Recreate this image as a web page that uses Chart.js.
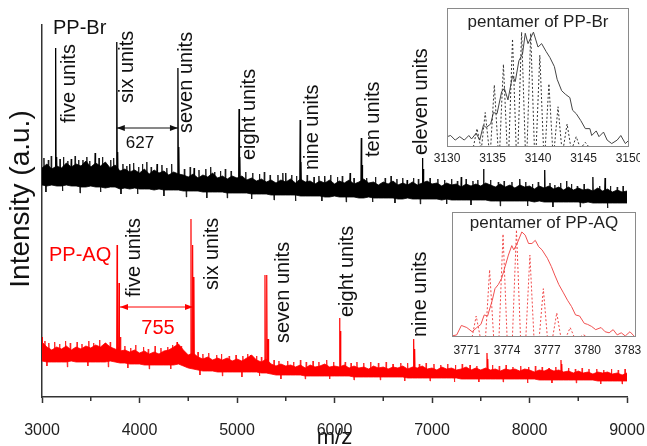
<!DOCTYPE html>
<html>
<head>
<meta charset="utf-8">
<script src="https://cdn.jsdelivr.net/npm/chart.js@4.4.1/dist/chart.umd.min.js"></script>
<style>
  body { margin: 0; background: #fff; }
  #wrap { position: relative; width: 647px; height: 446px; }
  canvas { position: absolute; }
</style>
</head>
<body>
<div id="wrap">
  <canvas id="main" width="647" height="446" style="left:0;top:0"></canvas>
  <canvas id="insetBr" width="215" height="170" style="left:425px;top:0"></canvas>
  <canvas id="insetAq" width="215" height="170" style="left:430px;top:195px"></canvas>
</div>
<script>
// baseline band of both spectra, sampled every 50 m/z from 3000 to 9000
const bandStart = 3000;
const bandStep = 50;

const brUpper = [
  229, 233, 228, 231, 229, 234, 230, 233, 231, 236,
  230, 234, 231, 235, 229, 232, 226, 228, 225, 227,
  224, 228, 223, 227, 224, 226, 222, 225, 223, 222,
  220, 223, 219, 222, 220, 224, 219, 221, 218, 221,
  219, 221, 217, 219, 216, 218, 215, 217, 214, 217,
  215, 218, 214, 218, 215, 216, 213, 216, 214, 217,
  213, 216, 214, 217, 213, 215, 218, 214, 215, 212,
  215, 213, 216, 212, 214, 212, 215, 212, 214, 216,
  213, 214, 211, 214, 212, 213, 210, 213, 211, 213,
  211, 214, 212, 210, 213, 210, 212, 209, 212, 210,
  211, 208, 211, 209, 211, 208, 210, 207, 210, 207,
  209, 207, 208, 206, 209, 206, 208, 205, 207, 205,
  206
];
const brLower = [
  212, 211, 212, 211, 211, 212, 211, 211, 210, 210,
  211, 210, 210, 209, 210, 210, 208, 209, 208, 209,
  208, 208, 208, 207, 208, 207, 207, 207, 207, 206,
  206, 206, 206, 205, 205, 205, 205, 205, 204, 204,
  204, 204, 204, 203, 203, 203, 203, 202, 202, 202,
  202, 202, 202, 201, 201, 201, 201, 201, 200, 200,
  201, 200, 200, 200, 200, 199, 199, 200, 199, 199,
  199, 199, 199, 198, 198, 199, 198, 198, 198, 198,
  198, 198, 197, 198, 197, 197, 197, 197, 197, 197,
  197, 197, 196, 196, 196, 196, 196, 196, 196, 196,
  196, 195, 196, 195, 195, 195, 195, 195, 195, 195,
  195, 194, 195, 194, 194, 194, 194, 194, 194, 194,
  194
];
const aqUpper = [
  55, 50, 47, 50, 48, 51, 47, 50, 48, 51,
  49, 52, 50, 54, 50, 48, 46, 47, 45, 47,
  44, 46, 43, 45, 43, 46, 47, 50, 53, 47,
  42, 44, 40, 38, 40, 37, 39, 37, 39, 36,
  38, 36, 39, 42, 37, 35, 38, 33, 31, 33,
  31, 32, 30, 32, 29, 32, 30, 31, 33, 30,
  31, 30, 32, 29, 31, 29, 30, 28, 31, 29,
  30, 28, 30, 29, 31, 28, 30, 29, 31, 28,
  29, 27, 30, 28, 29, 27, 28, 30, 27, 29,
  27, 29, 27, 28, 26, 28, 27, 28, 26, 28,
  27, 25, 27, 26, 28, 26, 27, 25, 26, 24,
  26, 24, 25, 23, 25, 24, 25, 23, 24, 22,
  24
];
const aqLower = [
  36, 35, 35, 35, 35, 35, 36, 35, 35, 35,
  35, 35, 35, 35, 36, 35, 34, 34, 33, 33,
  33, 32, 32, 32, 32, 32, 32, 32, 33, 31,
  29, 28, 27, 26, 26, 26, 25, 25, 25, 25,
  25, 25, 25, 25, 25, 24, 24, 23, 22, 22,
  22, 22, 22, 22, 21, 21, 21, 21, 21, 21,
  21, 21, 21, 21, 20, 20, 20, 20, 20, 20,
  20, 20, 20, 20, 20, 19, 19, 19, 19, 19,
  19, 19, 19, 19, 19, 19, 18, 18, 18, 18,
  18, 18, 18, 18, 18, 18, 18, 18, 18, 18,
  18, 18, 17, 17, 17, 17, 17, 17, 17, 17,
  17, 17, 17, 17, 16, 16, 16, 16, 16, 16,
  16
];

// peaks and spikes standing out of the baseline
const brSpikeMz = [3140, 3150, 3300, 3420, 3545, 3665, 3767, 3776, 3900, 4180, 4394, 4403, 4560, 4770, 5021, 5029, 5500,
  5648, 5656, 5900, 6160, 6275, 6283, 6745, 6902, 6910, 7300, 7529, 7900, 8156, 8380, 8650, 8775];
const brSpikeTop = [349, 240, 238, 237, 244, 232, 355, 245, 233, 233, 329, 250, 229, 225, 288, 240, 224,
  277, 235, 221, 224, 259, 232, 217, 239, 228, 220, 228, 218, 227, 216, 220, 219];
const aqSpikeMz = [3000, 3650, 3770, 3790, 3805, 4385, 4528, 4545, 4558, 5140, 5287, 5305, 5320, 6052, 6062, 6812, 6822, 7564, 7572, 8323, 8331];
const aqSpikeTop = [60, 54, 152, 114, 60, 55, 178, 152, 120, 42, 122, 122, 58, 79, 66, 58, 48, 44, 38, 37, 33];

// fine noise hairs on the baseline band
const brHairMz = [3020, 3040, 3065, 3095, 3185, 3210, 3220, 3265, 3340, 3375, 3390, 3460, 3490, 3585, 3600, 3620, 3705, 3735,
  3810, 3830, 3870, 3940, 3980, 3990, 4030, 4075, 4120, 4230, 4250, 4280, 4330, 4460, 4480, 4520, 4610, 4680, 4690, 4730,
  4830, 4880, 4900, 4940, 5090, 5150, 5160, 5230, 5280, 5340, 5380, 5420, 5470, 5560, 5600, 5610, 5720, 5790, 5840, 5870,
  5960, 6030, 6080, 6120, 6200, 6330, 6390, 6420, 6520, 6580, 6620, 6640, 6700, 6810, 6860, 6880, 6980, 7060, 7130, 7150,
  7200, 7260, 7350, 7400, 7420, 7470, 7600, 7680, 7700, 7740, 7820, 7960, 7980, 8030, 8090, 8210, 8240, 8260, 8320, 8430,
  8490, 8520, 8560, 8720, 8800, 8830, 8900, 8960];
const brHairTop = [239, 205, 237, 241, 238, 206, 240, 236, 241, 237, 204, 240, 236, 239, 205, 240, 237, 239,
  203, 233, 231, 234, 203, 230, 233, 235, 230, 232, 201, 229, 233, 228, 200, 230, 227, 228, 199, 230,
  226, 228, 199, 226, 225, 198, 224, 223, 225, 222, 197, 222, 224, 222, 196, 221, 222, 220, 221, 196,
  222, 220, 221, 195, 219, 219, 195, 220, 219, 221, 194, 218, 219, 219, 218, 193, 219, 218, 217, 193,
  218, 216, 218, 192, 216, 217, 217, 215, 191, 216, 215, 215, 191, 213, 215, 214, 190, 212, 214, 213,
  211, 190, 213, 211, 189, 211, 210, 211];
const aqHairMz = [3030, 3050, 3070, 3130, 3180, 3240, 3260, 3290, 3360, 3410, 3470, 3480, 3530, 3590, 3680, 3700, 3850, 3880,
  3910, 3960, 4040, 4090, 4100, 4160, 4220, 4290, 4320, 4340, 4430, 4600, 4620, 4650, 4710, 4790, 4840, 4850, 4920, 4990,
  5050, 5060, 5110, 5200, 5230, 5250, 5380, 5430, 5450, 5520, 5580, 5650, 5700, 5710, 5780, 5840, 5920, 5950, 5990, 6110,
  6170, 6200, 6230, 6300, 6370, 6450, 6470, 6530, 6600, 6680, 6720, 6750, 6870, 6940, 6980, 7020, 7090, 7160, 7230, 7240,
  7310, 7390, 7460, 7480, 7620, 7690, 7730, 7760, 7830, 7910, 7980, 7990, 8060, 8130, 8200, 8230, 8270, 8400, 8470, 8480,
  8540, 8610, 8690, 8730, 8760, 8840, 8910, 8950, 8980];
const aqHairTop = [56, 31, 54, 55, 53, 56, 30, 54, 55, 53, 31, 56, 54, 57, 30, 55, 51, 29,
  49, 52, 50, 48, 28, 51, 49, 50, 28, 52, 51, 45, 22, 43, 44, 42, 43, 21, 41, 42,
  20, 41, 43, 41, 21, 40, 37, 36, 18, 36, 35, 37, 18, 35, 36, 35, 37, 18, 35, 35,
  34, 17, 35, 34, 35, 34, 17, 35, 33, 34, 16, 34, 33, 34, 16, 33, 32, 33, 15, 32,
  33, 32, 31, 15, 32, 31, 15, 32, 30, 31, 14, 30, 31, 30, 29, 14, 30, 29, 28, 14,
  29, 28, 28, 13, 27, 28, 27, 13, 28];

const brLabels = ['five units', 'six units', 'seven units', 'eight units', 'nine units', 'ten units', 'eleven units'];
const aqLabels = ['five units', 'six units', 'seven units', 'eight units', 'nine units'];

// insets: measured (solid) and isotope pattern (dotted)
const brObsMz = [3130, 3130.4, 3130.9, 3131.4, 3131.9, 3132.4, 3132.7, 3133.2, 3133.6, 3134.0, 3134.3, 3134.8, 3135.1, 3135.5, 3136.0,
  3136.3, 3136.7, 3137.2, 3137.5, 3137.9, 3138.3, 3138.6, 3138.9, 3139.5, 3140.0, 3140.4, 3140.9, 3141.3, 3141.8, 3142.1,
  3142.6, 3143.0, 3143.5, 3143.8, 3144.2, 3144.7, 3145.2, 3145.7, 3145.9, 3146.4, 3146.7, 3147.2, 3147.6, 3148.1, 3148.7,
  3149.1, 3149.6, 3150];
const brObsVal = [9, 10, 6, 9, 6, 10, 7, 12, 6, 19, 17, 20, 30, 29, 48, 51, 41, 62, 57, 75, 81, 99, 90, 100, 87, 90, 83, 78, 70, 59,
  49, 46, 43, 32, 29, 23, 16, 16, 10, 14, 9, 13, 6, 3, 6, 10, 3, 6];
const brIsoMz = [3133.3, 3134.2, 3135.2, 3136.2, 3137.2, 3138.2, 3139.2, 3140.2, 3141.2, 3142.2, 3143.2, 3144.2, 3145.2];
const brIsoTop = [16, 30, 54, 72, 94, 100, 99, 80, 55, 35, 20, 9, 4];

const aqObsMz = [3769.9, 3770.25, 3770.6, 3771.0, 3771.4, 3771.75, 3772.05, 3772.3, 3772.55, 3772.9, 3773.1, 3773.35, 3773.6, 3773.85,
  3774.1, 3774.35, 3774.5, 3774.75, 3775.1, 3775.35, 3775.6, 3775.85, 3776.1, 3776.35, 3776.6, 3777.0, 3777.3, 3777.55, 3777.85,
  3778.2, 3778.5, 3778.8, 3779.1, 3779.4, 3779.75, 3780.0, 3780.3, 3780.6, 3781.0, 3781.3, 3781.6, 3781.9, 3782.2, 3782.5, 3782.8,
  3783.15, 3783.45];
const aqObsVal = [1, 2, 11, 9, 5, 9, 12, 21, 20, 35, 46, 50, 56, 67, 78, 87, 83, 89, 100, 97, 89, 89, 92, 86, 83, 75, 67, 59, 50,
  42, 35, 29, 21, 20, 13, 12, 10, 7, 9, 5, 4, 7, 2, 4, 1, 5, 1];
const aqIsoMz = [3771.7, 3772.7, 3773.7, 3774.7, 3775.7, 3776.7, 3777.7, 3778.7, 3779.7];
const aqIsoTop = [20, 64, 98, 102, 78, 46, 23, 9, 2];

const FONT = '"Liberation Sans", Arial, sans-serif';
Chart.defaults.font.family = FONT;
Chart.defaults.color = '#222';

function band(vals) {
  return vals.map((v, i) => ({ x: bandStart + i * bandStep, y: v }));
}

function spikes(mz, top, upper, lower) {
  const pts = [];
  mz.forEach((m, i) => {
    const k = Math.min(upper.length - 1, Math.max(0, Math.round((m - bandStart) / bandStep)));
    const base = (upper[k] + lower[k]) / 2;
    pts.push({ x: m - 4, y: base }, { x: m, y: top[i] }, { x: m + 4, y: base }, { x: m + 4, y: null });
  });
  return pts;
}

function isoPeaks(mz, top, w) {
  const pts = [];
  mz.forEach((m, i) => {
    pts.push({ x: m - w, y: 0 }, { x: m, y: top[i] }, { x: m + w, y: 0 });
  });
  return pts;
}

function lineSet(data, color, width, extra) {
  return Object.assign({ data, borderColor: color, borderWidth: width, pointRadius: 0, tension: 0, fill: false }, extra || {});
}

// keep the plot area where the figure has it: no extra room for end labels
function fixX(height) {
  return s => { s.height = height; s.paddingLeft = 0; s.paddingRight = 0; };
}

// text, arrows and minor ticks of the main panel
const annotate = {
  id: 'annotate',
  afterDraw(chart, args, opts) {
    const { ctx, chartArea } = chart;
    const x = chart.scales.x, y = chart.scales.y;
    ctx.save();

    ctx.strokeStyle = '#333';
    ctx.lineWidth = 1.5;
    opts.minorTicks.forEach(m => {
      const px = x.getPixelForValue(m);
      ctx.beginPath();
      ctx.moveTo(px, chartArea.bottom);
      ctx.lineTo(px, chartArea.bottom + 4);
      ctx.stroke();
    });

    ctx.font = '20px ' + FONT;
    ctx.textBaseline = 'middle';
    ctx.textAlign = 'left';
    ctx.fillStyle = '#111';
    const vert = (labels, pos) => labels.forEach((t, i) => {
      ctx.save();
      ctx.translate(x.getPixelForValue(pos[i][0]), y.getPixelForValue(pos[i][1]));
      ctx.rotate(-Math.PI / 2);
      ctx.fillText(t, 0, 0);
      ctx.restore();
    });
    vert(brLabels, opts.brPos);
    vert(aqLabels, opts.aqPos);

    ctx.fillStyle = '#111';
    ctx.fillText('PP-Br', x.getPixelForValue(3113), y.getPixelForValue(369));
    ctx.fillStyle = '#f00';
    ctx.fillText('PP-AQ', x.getPixelForValue(3072), y.getPixelForValue(142));

    const arrow = (m1, m2, v, color) => {
      const x1 = x.getPixelForValue(m1), x2 = x.getPixelForValue(m2), yy = y.getPixelForValue(v);
      ctx.strokeStyle = color;
      ctx.fillStyle = color;
      ctx.lineWidth = 1;
      ctx.beginPath();
      ctx.moveTo(x1, yy);
      ctx.lineTo(x2, yy);
      ctx.stroke();
      [[x1, 1], [x2, -1]].forEach(([px, d]) => {
        ctx.beginPath();
        ctx.moveTo(px, yy);
        ctx.lineTo(px + d * 8, yy - 3);
        ctx.lineTo(px + d * 8, yy + 3);
        ctx.closePath();
        ctx.fill();
      });
    };
    arrow(3767, 4394, 269, '#111');
    arrow(3800, 4549, 90, '#f00');

    ctx.textAlign = 'center';
    ctx.font = '17px ' + FONT;
    ctx.fillStyle = '#111';
    ctx.fillText('627', x.getPixelForValue(4005), y.getPixelForValue(254));
    ctx.font = '20px ' + FONT;
    ctx.fillStyle = '#f00';
    ctx.fillText('755', x.getPixelForValue(4190), y.getPixelForValue(69));

    ctx.font = '28px ' + FONT;
    ctx.fillStyle = '#111';
    ctx.translate(chartArea.left - 21, 199);
    ctx.rotate(-Math.PI / 2);
    ctx.fillText('Intensity (a.u.)', 0, 0);
    ctx.restore();
  }
};

new Chart(document.getElementById('main'), {
  type: 'line',
  data: {
    datasets: [
      lineSet(band(brUpper), '#000', 0.8, { fill: '+1', backgroundColor: '#000' }),
      lineSet(band(brLower), '#000', 0.8),
      lineSet(spikes(brHairMz, brHairTop, brUpper, brLower), '#1a1a1a', 1),
      lineSet(spikes(brSpikeMz, brSpikeTop, brUpper, brLower), '#000', 1.3),
      lineSet(band(aqUpper), '#f00', 0.8, { fill: '+1', backgroundColor: '#f00' }),
      lineSet(band(aqLower), '#f00', 0.8),
      lineSet(spikes(aqHairMz, aqHairTop, aqUpper, aqLower), '#f22', 1),
      lineSet(spikes(aqSpikeMz, aqSpikeTop, aqUpper, aqLower), '#f00', 1.2),
    ]
  },
  options: {
    responsive: false,
    animation: false,
    spanGaps: false,
    layout: { padding: { top: 25, right: 20, left: 0, bottom: 0 } },
    plugins: {
      legend: { display: false },
      tooltip: { enabled: false },
      annotate: {
        minorTicks: [3500, 4500, 5500, 6500, 7500, 8500],
        brPos: [[3287, 274], [3872, 294], [4487, 264], [5123, 237], [5779, 227], [6395, 240], [6897, 242]],
        aqPos: [[3944, 100], [4744, 107], [5472, 54], [6138, 80], [6877, 60]]
      }
    },
    scales: {
      x: {
        type: 'linear',
        min: 3000,
        max: 9000,
        afterFit: fixX(49),
        border: { color: '#333', width: 1.5 },
        grid: { drawOnChartArea: false, tickLength: 6, tickColor: '#333', tickWidth: 1.5 },
        ticks: { stepSize: 1000, autoSkip: false, maxRotation: 0, padding: 18, font: { size: 16 }, color: '#222', callback: v => String(v) },
        title: { display: true, text: 'm/z', font: { size: 22, lineHeight: 1 }, padding: { top: 0, bottom: -3 }, color: '#111' }
      },
      y: {
        min: 0,
        max: 372,
        afterFit: s => { s.width = 42; },
        border: { color: '#333', width: 1.5 },
        grid: { display: false, drawTicks: false },
        ticks: { display: false }
      }
    }
  },
  plugins: [annotate]
});

// frame and title of an inset
const insetFrame = {
  id: 'insetFrame',
  afterDraw(chart, args, opts) {
    const { ctx, chartArea: a } = chart;
    ctx.save();
    ctx.strokeStyle = '#8a8a8a';
    ctx.lineWidth = 1;
    ctx.strokeRect(a.left + 0.5, a.top + 0.5, a.right - a.left - 1, a.bottom - a.top - 1);
    ctx.fillStyle = '#222';
    ctx.font = '17px ' + FONT;
    ctx.textAlign = 'center';
    ctx.textBaseline = 'middle';
    ctx.fillText(opts.title, (a.left + a.right) / 2, a.top + opts.titleDy);
    ctx.restore();
  }
};

function inset(id, cfg) {
  new Chart(document.getElementById(id), {
    type: 'line',
    data: {
      datasets: [
        lineSet(isoPeaks(cfg.isoMz, cfg.isoTop, cfg.isoW), cfg.dotColor, 1, { borderDash: [2, 2] }),
        lineSet(cfg.obsMz.map((m, i) => ({ x: m, y: cfg.obsVal[i] })), cfg.lineColor, 1)
      ]
    },
    options: {
      responsive: false,
      animation: false,
      layout: { padding: cfg.padding },
      plugins: { legend: { display: false }, tooltip: { enabled: false }, insetFrame: { title: cfg.title, titleDy: cfg.titleDy } },
      scales: {
        x: {
          type: 'linear',
          min: cfg.min,
          max: cfg.max,
          afterFit: fixX(cfg.axisH),
          border: { display: false },
          grid: { display: false, drawTicks: false },
          ticks: { stepSize: cfg.step, includeBounds: false, autoSkip: false, maxRotation: 0, padding: cfg.tickPad, font: { size: 12 }, color: '#222', callback: v => String(v) }
        },
        y: { display: false, min: 0, max: cfg.ymax }
      }
    },
    plugins: [insetFrame]
  });
}

inset('insetBr', {
  title: 'pentamer of PP-Br', titleDy: 14,
  isoMz: brIsoMz, isoTop: brIsoTop, isoW: 0.4, obsMz: brObsMz, obsVal: brObsVal,
  dotColor: '#333', lineColor: '#444',
  min: 3130, max: 3150, step: 5, ymax: 121,
  padding: { left: 22, right: 11, top: 8, bottom: 0 }, axisH: 23, tickPad: 4
});

inset('insetAq', {
  title: 'pentamer of PP-AQ', titleDy: 11,
  isoMz: aqIsoMz, isoTop: aqIsoTop, isoW: 0.3, obsMz: aqObsMz, obsVal: aqObsVal,
  dotColor: '#f04848', lineColor: '#f05050',
  min: 3769.9, max: 3783.6, step: 3, ymax: 119,
  padding: { left: 22, right: 9, top: 17, bottom: 0 }, axisH: 28, tickPad: 6
});
</script>
</body>
</html>
